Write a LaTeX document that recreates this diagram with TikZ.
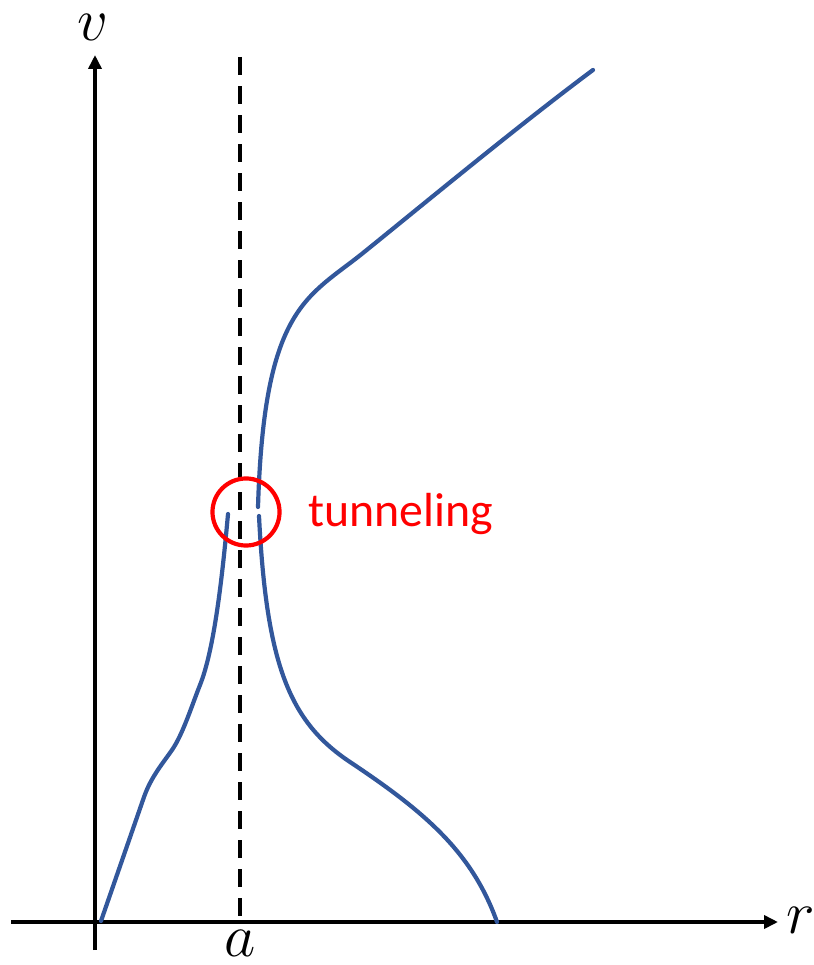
\documentclass[tikz,border=0pt]{standalone}
\usepackage{fontspec}
\newfontfamily\calib{Carlito}
\usetikzlibrary{arrows.meta}
\definecolor{curveblue}{RGB}{50,87,155}
\definecolor{tunred}{RGB}{255,0,0}
\tikzset{
  axisline/.style={line width=0.042cm, black, -{Triangle[length=0.14cm,width=0.13cm]}},
  curveline/.style={line width=0.042cm, curveblue, line cap=round, line join=round},
  dashline/.style={line width=0.042cm, black, dash pattern=on 0.18cm off 0.11cm},
  mathlabel/.style={inner sep=0pt, anchor=base, font=\fontsize{16}{18}\selectfont},
}
\begin{document}
\begin{tikzpicture}[x=0.01cm, y=-0.01cm]
\useasboundingbox (0,0) rectangle (813,965);
% axes
\coordinate (vb) at (95,950);
\coordinate (vt) at (95,55);
\coordinate (hl) at (11,922);
\coordinate (hr) at (778,922);
\draw[axisline] (vb) -- (vt);
\draw[axisline] (hl) -- (hr);
% dashed line at a
\coordinate (at) at (240,57);
\coordinate (ab) at (240,922);
\draw[dashline] (at) -- (ab);
% labels
\node[mathlabel] (lv) at (93,41) {$v$};
\node[mathlabel] (lr) at (801,933) {$r$};
\node[mathlabel] (la) at (240,956) {$a$};
% curve points
\coordinate (l0) at (101,921);
\coordinate (l1) at (144,797);
\coordinate (l2) at (172,750);
\coordinate (l3) at (200,685);
\coordinate (l4) at (228,514);
\coordinate (u0) at (258,507);
\coordinate (u1) at (363,253);
\coordinate (u2) at (593,70);
\coordinate (d0) at (259,516);
\coordinate (d1) at (350,762);
\coordinate (d2) at (497,922);
% curves
\draw[curveline] (l0) -- (l1)
                      .. controls (151,777) and (163,763) .. (l2)
                      .. controls (183,734) and (192,705) .. (l3)
                      .. controls (214,650) and (222,580) .. (l4);
\draw[curveline] (u0) .. controls (264,307) and (307,298) .. (u1)
                      .. controls (420,207) and (519,125) .. (u2);
\draw[curveline] (d0) .. controls (266.5,666) and (290,722) .. (d1)
                      .. controls (425,812) and (472,852) .. (d2);
% tunneling circle and label
\node[draw=tunred, line width=0.042cm, circle, minimum size=0.67cm, inner sep=0pt] (circ) at (246,512) {};
\node[inner sep=0pt, anchor=base, text=tunred, font=\calib\fontsize{13.6}{16}\selectfont] (tun) at (401,527) {tunneling};
\end{tikzpicture}
\end{document}
